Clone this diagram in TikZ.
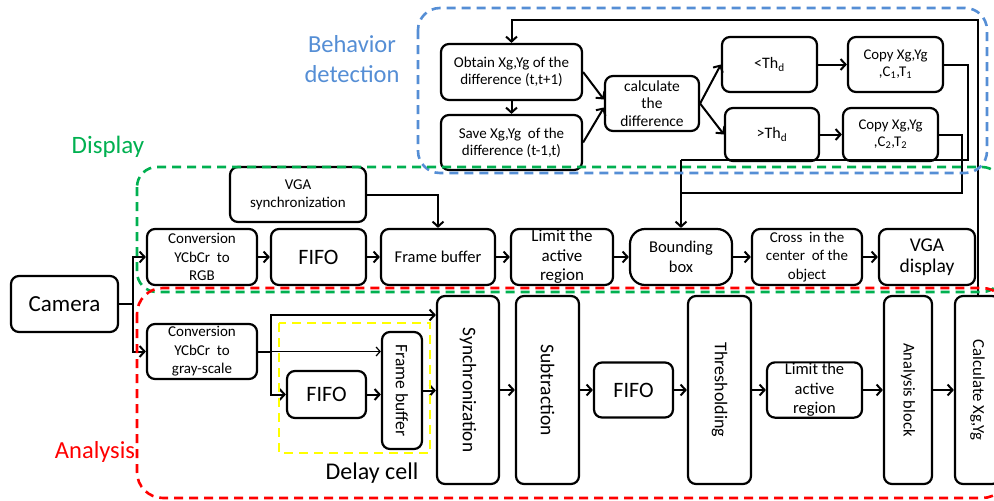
\documentclass[tikz,border=0pt]{standalone}
\usepackage{fontspec}
\setmainfont{Carlito}
\usetikzlibrary{arrows.meta,calc}
\newcommand\fsz[2]{\fontsize{#1}{#2}\selectfont}
\definecolor{bdblue}{RGB}{85,142,213}
\definecolor{dpgreen}{RGB}{0,176,80}
\definecolor{anred}{RGB}{255,0,0}
\definecolor{dlyellow}{RGB}{255,255,0}
\tikzset{
  blk/.style={draw, line width=2.2pt, rounded corners=8pt, align=center, inner sep=1pt},
  arr/.style={line width=2pt, -{Straight Barb[length=5pt,width=11pt]}},
  thinarr/.style={line width=1.2pt, -{Straight Barb[length=4pt,width=9pt]}},
  ln/.style={line width=2pt},
  frm/.style={line width=2.6pt, dash pattern=on 9pt off 6pt, rounded corners=22pt},
  vtxt/.style={rotate=-90, inner sep=0pt},
}
\begin{document}
\begin{tikzpicture}[x=1pt,y=-1pt]
\useasboundingbox (0,0) rectangle (994,501);

% ---------- behavior detection blocks ----------
\node[blk, minimum width=141pt, minimum height=56pt, font=\fsz{15}{17.3}] (obtain) at (511.5,72) {Obtain Xg,Yg of the\\difference (t,t+1)};
\node[blk, minimum width=141pt, minimum height=55pt, font=\fsz{15}{17.3}] (save) at (511.5,142.5) {Save Xg,Yg\ \ of the\\difference (t-1,t)};
\node[blk, minimum width=94pt, minimum height=55pt, font=\fsz{15.5}{17.2}] (calcd) at (652,103.5) {calculate\\the\\difference};
\node[blk, minimum width=95pt, minimum height=55pt, font=\fsz{16}{18}] (lth) at (769.5,64.5) {<Th\textsubscript{d}};
\node[blk, minimum width=94pt, minimum height=53pt, font=\fsz{16}{18}] (gth) at (772,134.5) {>Th\textsubscript{d}};
\node[blk, minimum width=95pt, minimum height=55pt, font=\fsz{14.8}{17}] (copy1) at (895.5,64.5) {Copy Xg,Yg\\,C\textsubscript{1},T\textsubscript{1}};
\node[blk, minimum width=95pt, minimum height=53pt, font=\fsz{14.8}{17}] (copy2) at (890.5,134.5) {Copy Xg,Yg\\,C\textsubscript{2},T\textsubscript{2}};

% ---------- display blocks ----------
\node[blk, minimum width=107pt, minimum height=56pt, font=\fsz{23}{24}] (camera) at (64.5,304) {Camera};
\node[blk, minimum width=136pt, minimum height=55pt, font=\fsz{15}{18}] (vgasync) at (298,194.5) {VGA\\synchronization};
\node[blk, minimum width=110pt, minimum height=56pt, font=\fsz{15}{18.5}] (convrgb) at (202,257) {Conversion\\YCbCr\ \ to\\RGB};
\node[blk, minimum width=95pt, minimum height=56pt, font=\fsz{22}{24}] (fifoA) at (318.5,257) {FIFO};
\node[blk, minimum width=114pt, minimum height=56pt, font=\fsz{16.5}{19}] (fbA) at (438,257) {Frame buffer};
\node[blk, minimum width=102pt, minimum height=56pt, font=\fsz{17}{19.5}] (limA) at (562,257) {Limit the\\active\\region};
\node[blk, rounded corners=15pt, minimum width=102pt, minimum height=56pt, font=\fsz{16.5}{20}] (bbox) at (681,257) {Bounding\\box};
\node[blk, minimum width=110pt, minimum height=56pt, font=\fsz{15}{18.5}] (cross) at (807,257) {Cross\ \ in the\\center\ \ of the\\object};
\node[blk, minimum width=96pt, minimum height=56pt, font=\fsz{19.5}{21}] (vgad) at (927,257) {VGA\\display};

% ---------- analysis blocks ----------
\node[blk, minimum width=110pt, minimum height=55pt, font=\fsz{15}{18.5}] (convgray) at (202,351.5) {Conversion\\YCbCr\ \ to\\gray-scale};
\node[blk, minimum width=79pt, minimum height=47pt, font=\fsz{22}{24}] (fifoB) at (326.5,394.5) {FIFO};
\node[blk, minimum width=40pt, minimum height=117pt] (fbB) at (402,390.5) {};
\node[vtxt, font=\fsz{17.5}{19}] (fbBt) at (fbB.center) {Frame buffer};
\node[blk, minimum width=62pt, minimum height=188pt] (sync) at (468,390) {};
\node[vtxt, font=\fsz{19.3}{20}] (synct) at (sync.center) {Synchronization};
\node[blk, minimum width=63pt, minimum height=188pt] (sub) at (547.5,390) {};
\node[vtxt, font=\fsz{19.5}{21}] (subt) at (sub.center) {Subtraction};
\node[blk, minimum width=79pt, minimum height=55pt, font=\fsz{22}{24}] (fifoC) at (633.5,390) {FIFO};
\node[blk, minimum width=63pt, minimum height=188pt] (thr) at (719.5,390) {};
\node[vtxt, font=\fsz{18}{19}] (thrt) at (thr.center) {Thresholding};
\node[blk, minimum width=95pt, minimum height=55pt, font=\fsz{16.5}{19.5}] (limB) at (814.5,390) {Limit the\\active\\region};
\node[blk, minimum width=48pt, minimum height=188pt] (anb) at (908,390) {};
\node[vtxt, font=\fsz{16.5}{18}] (anbt) at (anb.center) {Analysis block};
\node[blk, minimum width=45pt, minimum height=188pt] (calc) at (977.5,390) {};
\node[vtxt, font=\fsz{16.8}{18}] (calct) at (calc.center) {Calculate Xg,Yg};

% ---------- group labels ----------
\node[font=\fsz{24.5}{30}, text=bdblue, align=center] (lbeh) at (352,59) {Behavior\\detection};
\node[font=\fsz{25}{28}, text=dpgreen] (ldisp) at (108,147) {Display};
\node[font=\fsz{24.5}{28}, text=anred] (lana) at (95,452) {Analysis};
\node[font=\fsz{24}{28}] (ldly) at (372,473) {Delay cell};

% ---------- junction points ----------
\coordinate (cj) at (133,304);
\coordinate (gj) at (271,351.5);
\coordinate (gtop) at (271,315);
\coordinate (k1) at (968,160);
\coordinate (k2) at (962,193);
\coordinate (bbtop1) at (681,160);
\coordinate (bbtop2) at (681,193);
\coordinate (loopR) at (977.5,20);
\coordinate (loopL) at (511.5,20);

% ---------- camera split ----------
\draw[ln] (camera.east) -- (cj);
\draw[arr] (cj) |- (convrgb.west);
\draw[arr] (cj) |- (convgray.west);

% ---------- display chain ----------
\draw[arr] (convrgb) -- (fifoA);
\draw[arr] (fifoA) -- (fbA);
\draw[arr] (fbA) -- (limA);
\draw[arr] (limA) -- (bbox);
\draw[arr] (bbox) -- (cross);
\draw[arr] (cross) -- (vgad);
\draw[arr] (vgasync.east) -| (fbA.north);

% ---------- analysis chain ----------
\draw[ln] (convgray.east) -- (gj);
\draw[arr] (gj) -- (gtop) -- (gtop -| sync.west);
\draw[thinarr] (gj) -- (gj -| fbB.west);
\draw[arr] (gj) |- (fifoB.west);
\draw[arr] (fifoB.east) -- (fifoB.east -| fbB.west);
\draw[arr] (fbB.east) -- (fbB.east -| sync.west);
\draw[arr] (sync) -- (sub);
\draw[arr] (sub) -- (fifoC);
\draw[arr] (fifoC) -- (thr);
\draw[arr] (thr) -- (limB);
\draw[arr] (limB) -- (anb);
\draw[arr] (anb) -- (calc);

% ---------- behavior detection wiring ----------
\draw[arr] (calc.north) -- (loopR) -- (loopL) -- (obtain.north);
\draw[arr] (obtain) -- (save);
\draw[arr] (obtain.east) -- ($(calcd.west)+(0,-4)$);
\draw[arr] (save.east) -- ($(calcd.west)+(0,4)$);
\draw[arr] (calcd.east) -- (lth.west);
\draw[arr] (calcd.east) -- (gth.west);
\draw[arr] (lth) -- (copy1);
\draw[arr] (gth) -- (copy2);
\draw[ln] (copy1.east) -| (k1) -- (bbtop1);
\draw[ln] (copy2.east) -| (k2) -- (bbtop2);
\draw[arr] (bbtop1) -- (bbox.north);

% ---------- group frames ----------
\draw[frm, bdblue] (418,8) rectangle (987,173);
\draw[frm, dpgreen, rounded corners=20pt] (137,167) rectangle (1002,292);
\draw[frm, anred, rounded corners=26pt] (137,288) rectangle (1008,498);
\draw[dlyellow, line width=2.6pt, dash pattern=on 9pt off 6pt] (279,323) rectangle (430,453);
\end{tikzpicture}
\end{document}
